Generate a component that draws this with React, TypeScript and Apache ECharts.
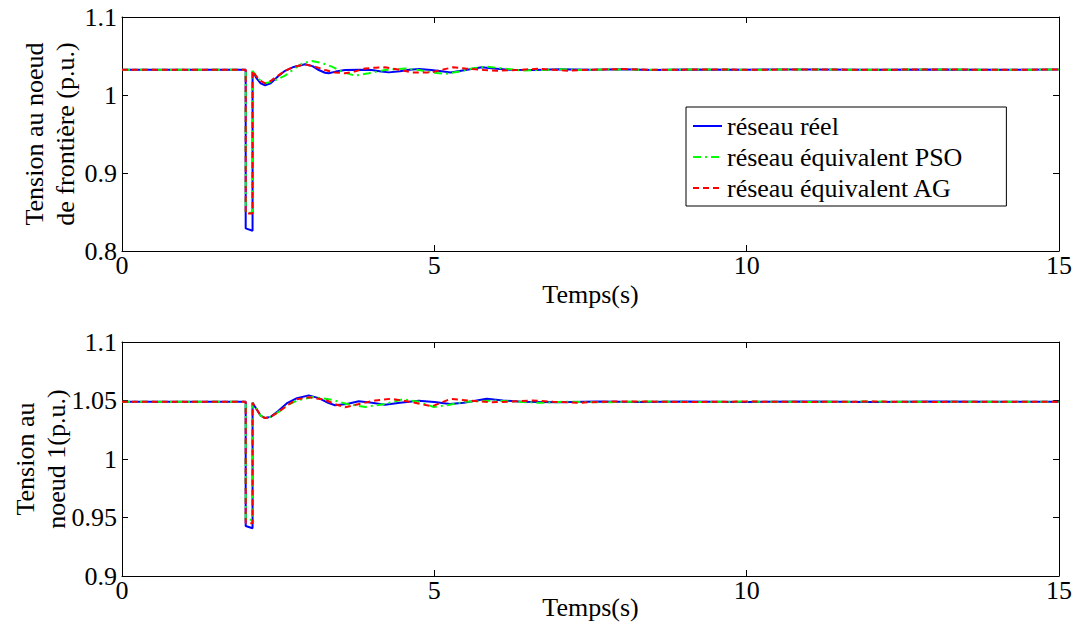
import React, { useEffect, useRef } from "react";
import * as echarts from "echarts";

const seriesNames = ["réseau réel", "réseau équivalent PSO", "réseau équivalent AG"];
const xTicks = [0, 5, 10, 15];

// Top: Tension au noeud de frontière
const topReel: number[][] = [
  [0, 1.0325], [1.98, 1.0325], [1.98, 0.829], [2.09, 0.826], [2.09, 1.030], [2.15, 1.022], [2.22, 1.015],
  [2.29, 1.0125], [2.38, 1.015], [2.5, 1.024], [2.61, 1.031], [2.75, 1.036], [2.93, 1.0393], [3.05, 1.037],
  [3.15, 1.032], [3.25, 1.0285], [3.31, 1.0278], [3.42, 1.030], [3.57, 1.032], [3.8, 1.0325], [4.0, 1.032],
  [4.15, 1.030], [4.27, 1.029], [4.45, 1.0305], [4.6, 1.0325], [4.76, 1.0333], [4.95, 1.032], [5.12, 1.0305],
  [5.26, 1.0288], [5.5, 1.032], [5.76, 1.0355], [5.95, 1.034], [6.2, 1.0325], [6.6, 1.032], [7.0, 1.033],
  [7.5, 1.0325], [8.0, 1.033], [8.5, 1.0322], [9.0, 1.0328], [10, 1.0325], [11, 1.0328], [12, 1.0323],
  [13, 1.0327], [14, 1.0324], [15, 1.0326],
];
const topPSO: number[][] = [
  [0, 1.0325], [1.98, 1.0325], [1.98, 0.849], [2.09, 0.849], [2.09, 1.031], [2.15, 1.024], [2.22, 1.018],
  [2.29, 1.015], [2.4, 1.017], [2.61, 1.0248], [2.8, 1.036], [2.9, 1.041], [3.04, 1.0436], [3.2, 1.041],
  [3.36, 1.0363], [3.55, 1.029], [3.73, 1.0248], [3.95, 1.028], [4.21, 1.032], [4.54, 1.034], [4.75, 1.032],
  [4.96, 1.029], [5.18, 1.027], [5.4, 1.030], [5.6, 1.034], [5.84, 1.0363], [6.1, 1.034], [6.38, 1.0315],
  [6.7, 1.032], [7.0, 1.033], [7.4, 1.0322], [7.9, 1.0328], [8.5, 1.0323], [9.2, 1.0328], [10, 1.0324],
  [11, 1.0327], [12, 1.0324], [13, 1.0327], [14, 1.0324], [15, 1.0326],
];
const topAG: number[][] = [
  [0, 1.0325], [1.98, 1.0325], [1.98, 0.848], [2.09, 0.848], [2.09, 1.031], [2.15, 1.024], [2.22, 1.018],
  [2.29, 1.015], [2.38, 1.018], [2.5, 1.025], [2.61, 1.031], [2.75, 1.036], [2.93, 1.0393], [3.1, 1.036],
  [3.25, 1.032], [3.4, 1.029], [3.57, 1.0278], [3.72, 1.030], [3.89, 1.034], [4.05, 1.035], [4.21, 1.0355],
  [4.4, 1.033], [4.64, 1.029], [4.96, 1.029], [5.1, 1.032], [5.3, 1.0355], [5.5, 1.034], [5.8, 1.032],
  [6.0, 1.031], [6.3, 1.032], [6.65, 1.0335], [6.9, 1.0325], [7.13, 1.031], [7.5, 1.0325], [8.0, 1.0332],
  [8.6, 1.0322], [9.3, 1.0328], [10, 1.0324], [11, 1.0327], [12, 1.0324], [13, 1.0327], [14, 1.0324],
  [15, 1.0326],
];

// Bottom: Tension au noeud 1
const botReel: number[][] = [
  [0, 1.049], [1.98, 1.049], [1.98, 0.9427], [2.09, 0.9408], [2.09, 1.048], [2.15, 1.043], [2.22, 1.037],
  [2.29, 1.035], [2.38, 1.036], [2.5, 1.041], [2.65, 1.048], [2.8, 1.052], [2.99, 1.0544], [3.15, 1.052],
  [3.3, 1.048], [3.41, 1.0459], [3.6, 1.047], [3.79, 1.0493], [4.0, 1.048], [4.21, 1.0464], [4.45, 1.048],
  [4.75, 1.0498], [5.0, 1.0488], [5.25, 1.047], [5.47, 1.048], [5.84, 1.0515], [6.1, 1.050], [6.4, 1.049],
  [7.0, 1.0485], [7.6, 1.0492], [8.3, 1.0487], [9.0, 1.0492], [10, 1.0488], [11, 1.0491], [12, 1.0488],
  [13, 1.0491], [14, 1.0489], [15, 1.049],
];
const botPSO: number[][] = [
  [0, 1.049], [1.98, 1.049], [1.98, 0.948], [2.09, 0.948], [2.09, 1.048], [2.15, 1.043], [2.22, 1.037],
  [2.29, 1.035], [2.38, 1.036], [2.5, 1.040], [2.65, 1.046], [2.8, 1.050], [3.05, 1.053], [3.36, 1.0507],
  [3.6, 1.047], [3.9, 1.0445], [4.2, 1.047], [4.5, 1.051], [4.75, 1.049], [4.99, 1.0444], [5.2, 1.046],
  [5.5, 1.049], [5.95, 1.050], [6.3, 1.049], [6.7, 1.048], [7.1, 1.049], [7.7, 1.0485], [8.4, 1.0492],
  [9.2, 1.0487], [10, 1.0491], [11, 1.0488], [12, 1.0491], [13, 1.0488], [14, 1.049], [15, 1.049],
];
const botAG: number[][] = [
  [0, 1.049], [1.98, 1.049], [1.98, 0.945], [2.09, 0.945], [2.09, 1.048], [2.15, 1.043], [2.22, 1.037],
  [2.29, 1.035], [2.38, 1.036], [2.5, 1.040], [2.65, 1.046], [2.8, 1.051], [2.99, 1.0527], [3.25, 1.0507],
  [3.4, 1.047], [3.57, 1.0442], [3.8, 1.047], [4.05, 1.050], [4.31, 1.0515], [4.6, 1.049], [4.96, 1.045],
  [5.1, 1.048], [5.26, 1.0513], [5.55, 1.050], [5.9, 1.0485], [6.2, 1.049], [6.55, 1.050], [6.9, 1.049],
  [7.29, 1.048], [7.7, 1.049], [8.3, 1.0492], [9.0, 1.0487], [10, 1.0491], [11, 1.0488], [12, 1.0491],
  [13, 1.0488], [14, 1.049], [15, 1.049],
];

const FONT = "Liberation Serif";
const FS = 26;
const colors = ["#0000ff", "#00ff00", "#ff0000"];
const lineTypes: any[] = ["solid", [8, 4, 2, 4], [6, 4]];

export default function App() {
  const ref = useRef<HTMLDivElement>(null);
  useEffect(() => {
    if (!ref.current) return;
    const chart = echarts.init(ref.current, undefined, { renderer: "svg" });
    const lbl = { color: "#000", fontFamily: FONT, fontSize: FS };
    const mkX = (gridIndex: number, pos: string, show: boolean, withName: boolean, nameGap: number) => ({
      type: "value",
      gridIndex,
      position: pos,
      min: 0,
      max: 15,
      interval: 5,
      axisLine: { show: true, onZero: false, lineStyle: { color: "#000", width: 1 } },
      axisTick: { show: true, inside: true, length: 6, lineStyle: { color: "#000" } },
      axisLabel: { show, ...lbl, margin: 1 },
      splitLine: { show: false },
      name: withName ? "Temps(s)" : "",
      nameLocation: "middle",
      nameGap,
      nameMoveOverlap: false,
      nameTextStyle: { ...lbl },
    });
    const mkY = (
      gridIndex: number, pos: string, show: boolean, min: number, max: number,
      interval: number, name: string, nameGap: number,
    ) => ({
      type: "value",
      gridIndex,
      position: pos,
      min,
      max,
      interval,
      axisLine: { show: true, onZero: false, lineStyle: { color: "#000", width: 1 } },
      axisTick: { show: true, inside: true, length: 6, lineStyle: { color: "#000" } },
      axisLabel: { show, ...lbl, margin: 5 },
      splitLine: { show: false },
      name,
      nameLocation: "middle",
      nameGap,
      nameMoveOverlap: false,
      nameRotate: 90,
      nameTextStyle: { ...lbl, lineHeight: 31 },
    });
    const mkSeries = (data: number[][], i: number, xi: number, yi: number) => ({
      type: "line",
      name: seriesNames[i],
      data,
      xAxisIndex: xi,
      yAxisIndex: yi,
      symbol: "none",
      showSymbol: false,
      lineStyle: { color: colors[i], width: 2, type: lineTypes[i] },
      itemStyle: { color: colors[i] },
      z: 10 + i,
    });
    chart.setOption({
      animation: false,
      backgroundColor: "#fff",
      grid: [
        { left: 122, right: 18, top: 17, height: 234, outerBoundsMode: "none", containLabel: false },
        { left: 122, right: 18, top: 342, height: 234, outerBoundsMode: "none", containLabel: false },
      ],
      xAxis: [
        mkX(0, "bottom", true, true, 30),
        mkX(0, "top", false, false, 0),
        mkX(1, "bottom", true, true, 18),
        mkX(1, "top", false, false, 0),
      ],
      yAxis: [
        mkY(0, "left", true, 0.8, 1.1, 0.1, "Tension au noeud\nde frontière (p.u.)", 41),
        mkY(0, "right", false, 0.8, 1.1, 0.1, "", 0),
        mkY(1, "left", true, 0.9, 1.1, 0.05, "Tension au\nnoeud 1(p.u.)", 50),
        mkY(1, "right", false, 0.9, 1.1, 0.05, "", 0),
      ],
      legend: {
        show: true,
        orient: "vertical",
        left: 686,
        top: 107,
        data: seriesNames,
        backgroundColor: "#fff",
        borderColor: "#000",
        borderWidth: 1,
        borderRadius: 0,
        padding: [6, 44, 5, 6],
        itemWidth: 29,
        itemHeight: 14,
        itemGap: 5,
        itemStyle: { opacity: 0, borderWidth: 0 },
        textStyle: { ...lbl },
      },
      series: [
        mkSeries(topReel, 0, 0, 0),
        mkSeries(topPSO, 1, 0, 0),
        mkSeries(topAG, 2, 0, 0),
        mkSeries(botReel, 0, 2, 2),
        mkSeries(botPSO, 1, 2, 2),
        mkSeries(botAG, 2, 2, 2),
      ],
    });
    return () => chart.dispose();
  }, []);
  return (
    <div
      ref={ref}
      style={{ position: "fixed", left: 0, top: 0, width: 1077, height: 634, background: "#fff" }}
    />
  );
}
